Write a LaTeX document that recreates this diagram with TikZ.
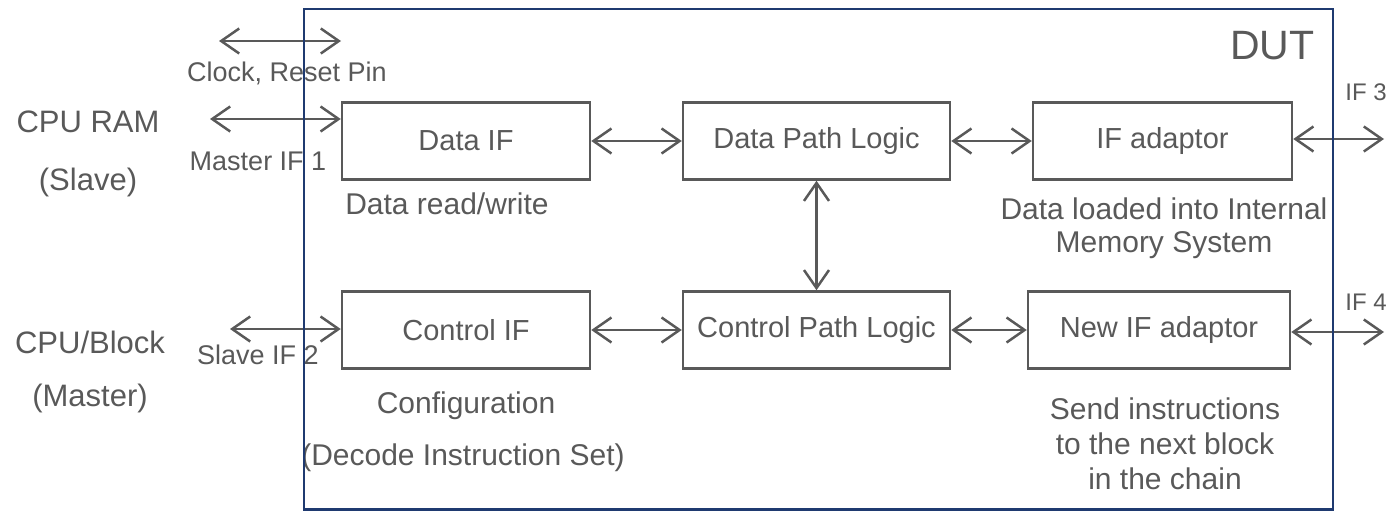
\documentclass[tikz,border=0pt]{standalone}
\usepackage{fontspec}
\setmainfont{Liberation Sans}
\usetikzlibrary{arrows.meta}
\definecolor{inkgray}{HTML}{595959}
\definecolor{dutblue}{HTML}{1F3A70}

\newcommand{\fs}[1]{\fontsize{#1}{#1}\selectfont}

\begin{document}
\begin{tikzpicture}
  [x=1pt,y=-1pt,every node/.style={rectangle,text=inkgray,font=\fs{29}},
   blk/.style={draw=inkgray,line width=2.5pt,minimum width=248pt,minimum height=77pt},
   link/.style={draw=inkgray,line width=2.5pt,
     {Straight Barb[length=18pt,width=25pt]}-{Straight Barb[length=18pt,width=25pt]}},
   pin/.style={font=\fs{27}}]
  \useasboundingbox (0,0) rectangle (1392,511);

  % blocks inside the DUT
  \node[blk] (n1) at (466,141) {Data IF};
  \node[blk,minimum width=267pt] (n2) at (816.5,141) {Data Path Logic};
  \node[blk,minimum width=259pt] (n3) at (1162.5,141) {IF adaptor};
  \node[blk] (n4) at (466,330) {Control IF};
  \node[blk,minimum width=267pt] (n5) at (816.5,330) {Control Path Logic};
  \node[blk,minimum width=262pt] (n6) at (1159,330) {New IF adaptor};

  % free ends of the outer links
  \coordinate (c1) at (219,41);
  \coordinate (c2) at (341,41);
  \coordinate (c3) at (210,119);
  \coordinate (c4) at (230,329);
  \coordinate (c5) at (1384,139);
  \coordinate (c6) at (1384,332);

  \draw[link] (c1) -- (c2);
  \draw[link] (c3) -- (c3 -| n1.west);
  \draw[link] (c4) -- (c4 -| n4.west);
  \draw[link] (n1.east) -- (n2.west);
  \draw[link] (n2.east) -- (n3.west);
  \draw[link] (n2.south) -- (n5.north);
  \draw[link] (n4.east) -- (n5.west);
  \draw[link] (n5.east) -- (n6.west);
  \draw[link] (n3.east |- c5) -- (c5);
  \draw[link] (n6.east |- c6) -- (c6);

  % external side
  \node[font=\fs{31}] (l1) at (88,122) {CPU RAM};
  \node[font=\fs{31}] (l2) at (88,182) {(Slave)};
  \node[font=\fs{31}] (l3) at (90,342) {CPU/Block};
  \node[font=\fs{31}] (l4) at (90,398) {(Master)};
  \node[pin] (l5) at (287,73) {Clock, Reset Pin};
  \node[pin] (l6) at (258,161) {Master IF 1};
  \node[pin] (l7) at (258,355) {Slave IF 2};
  \node[font=\fs{24}] (l8) at (1366,92) {IF 3};
  \node[font=\fs{24}] (l9) at (1366,302) {IF 4};

  % notes under the blocks
  \node[font=\fs{30}] (l10) at (447,204) {Data read/write};
  \node[font=\fs{30}] (l11) at (466,406) {Configuration};
  \node[font=\fs{30}] (l12) at (463,458) {(Decode Instruction Set)};
  \node[font=\fs{30},align=center] (l13) at (1164,228)
    {Data loaded into Internal\\[3pt]Memory System};
  \node[font=\fs{30},align=center] (l14) at (1165,444)
    {Send instructions\\[5pt]to the next block\\[5pt]in the chain};

  % DUT frame on top of the links
  \draw[dutblue,line width=2.5pt] (304,9) rectangle (1333,509.5);
  \node[anchor=east,font=\fs{41}] (l15) at (1318,46) {DUT};
\end{tikzpicture}
\end{document}
